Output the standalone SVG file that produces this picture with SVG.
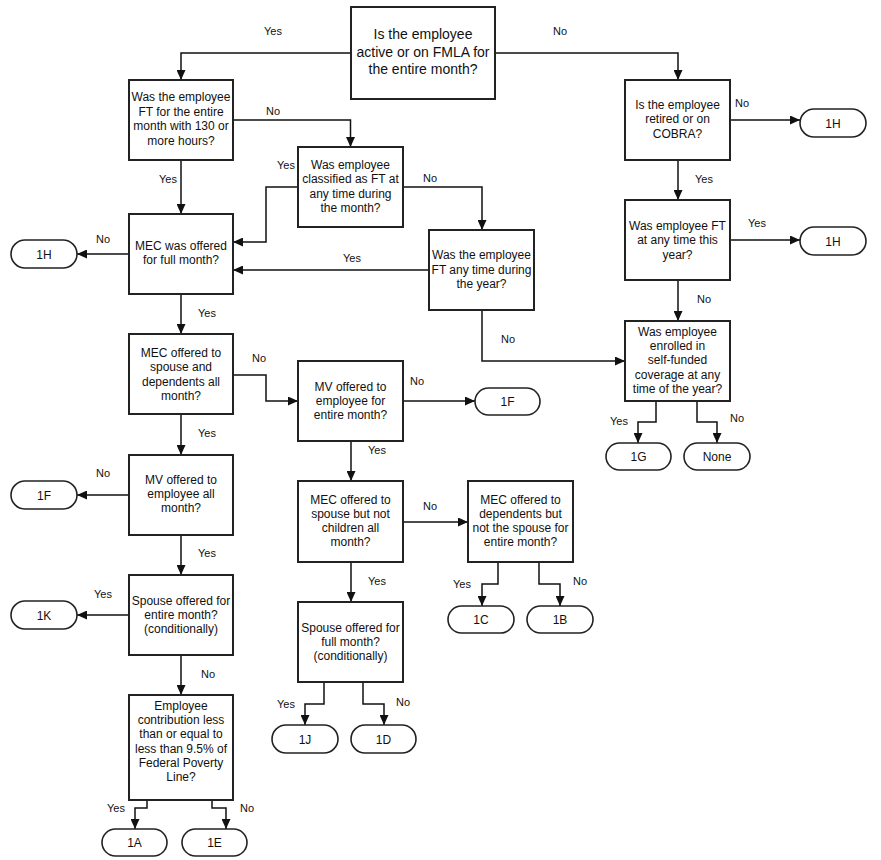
<svg xmlns="http://www.w3.org/2000/svg" width="881" height="860" viewBox="0 0 881 860">
<style>
.box{fill:#fff;stroke:#222;stroke-width:2}
.term{fill:#fff;stroke:#222;stroke-width:1.6}
.t{font-family:"Liberation Sans",Arial,sans-serif;font-size:12px;fill:#111;text-anchor:middle}
.big{font-size:14px}
.lbl{font-family:"Liberation Sans",Arial,sans-serif;font-size:11px;fill:#111;text-anchor:middle}
.c path{fill:none;stroke:#111;stroke-width:1.5;marker-end:url(#ah)}
</style>
<defs>
<marker id="ah" markerUnits="userSpaceOnUse" markerWidth="11" markerHeight="9" refX="10" refY="4.5" orient="auto">
<path d="M0,0 L10,4.5 L0,9 z" fill="#111"/>
</marker>
</defs>
<rect width="881" height="860" fill="#fff"/>
<g class="c" id="connectors">
<path d="M351,53 H181 V80"/>
<path d="M495,53 H678 V80"/>
<path d="M233,120 H350.5 V147"/>
<path d="M181,160 V214"/>
<path d="M298,187 H266 V242 H233"/>
<path d="M403,187 H482 V230"/>
<path d="M429,270 H233"/>
<path d="M482,310 V361 H625"/>
<path d="M129,254 H77"/>
<path d="M730,120 H800"/>
<path d="M678,160 V200"/>
<path d="M730,240 H800"/>
<path d="M678,280 V321"/>
<path d="M656,401 V422 H638 V443"/>
<path d="M697,401 V422 H717 V443"/>
<path d="M181,294 V334"/>
<path d="M233,375 H266 V401 H298"/>
<path d="M181,414 V455"/>
<path d="M129,495 H77"/>
<path d="M181,535 V575"/>
<path d="M129,615 H77"/>
<path d="M181,655 V695"/>
<path d="M147,800 V808 H135 V829"/>
<path d="M212,800 V808 H226 V829"/>
<path d="M403,401 H475"/>
<path d="M351,441 V481"/>
<path d="M403,522 H468"/>
<path d="M351,562 V602"/>
<path d="M498,562 V584 H482 V606"/>
<path d="M539,562 V584 H560 V606"/>
<path d="M324,682 V704 H305 V725"/>
<path d="M363,682 V704 H384 V725"/>
</g>
<g id="labels">
<text class="lbl" x="273" y="35">Yes</text>
<text class="lbl" x="560" y="35">No</text>
<text class="lbl" x="273" y="115">No</text>
<text class="lbl" x="286" y="169">Yes</text>
<text class="lbl" x="168" y="183">Yes</text>
<text class="lbl" x="430" y="182">No</text>
<text class="lbl" x="352" y="262">Yes</text>
<text class="lbl" x="103" y="243">No</text>
<text class="lbl" x="742" y="107">No</text>
<text class="lbl" x="704" y="183">Yes</text>
<text class="lbl" x="757" y="227">Yes</text>
<text class="lbl" x="704" y="303">No</text>
<text class="lbl" x="508" y="343">No</text>
<text class="lbl" x="619" y="425">Yes</text>
<text class="lbl" x="737" y="422">No</text>
<text class="lbl" x="207" y="317">Yes</text>
<text class="lbl" x="259" y="362">No</text>
<text class="lbl" x="207" y="437">Yes</text>
<text class="lbl" x="103" y="477">No</text>
<text class="lbl" x="207" y="557">Yes</text>
<text class="lbl" x="417" y="385">No</text>
<text class="lbl" x="377" y="454">Yes</text>
<text class="lbl" x="430" y="510">No</text>
<text class="lbl" x="377" y="585">Yes</text>
<text class="lbl" x="462" y="588">Yes</text>
<text class="lbl" x="580" y="585">No</text>
<text class="lbl" x="103" y="598">Yes</text>
<text class="lbl" x="208" y="678">No</text>
<text class="lbl" x="286" y="708">Yes</text>
<text class="lbl" x="403" y="706">No</text>
<text class="lbl" x="116" y="812">Yes</text>
<text class="lbl" x="247" y="812">No</text>
</g>
<g id="n_top"><rect class="box" x="351" y="7" width="144" height="92"/>
<text class="t big" x="423" y="39">Is the employee</text><text class="t big" x="423" y="57">active or on FMLA for</text><text class="t big" x="423" y="74">the entire month?</text></g>
<g id="n_ft130"><rect class="box" x="129" y="80" width="104" height="80"/>
<text class="t" x="181" y="101">Was the employee</text><text class="t" x="181" y="115.5">FT for the entire</text><text class="t" x="181" y="130">month with 130 or</text><text class="t" x="181" y="144.5">more hours?</text></g>
<g id="n_retired"><rect class="box" x="625" y="80" width="105" height="80"/>
<text class="t" x="677.5" y="108.5">Is the employee</text><text class="t" x="677.5" y="122.5">retired or on</text><text class="t" x="677.5" y="137.5">COBRA?</text></g>
<g id="n_classified"><rect class="box" x="298" y="147" width="105" height="80"/>
<text class="t" x="350.5" y="168.5">Was employee</text><text class="t" x="350.5" y="182.5">classified as FT at</text><text class="t" x="350.5" y="197.5">any time during</text><text class="t" x="350.5" y="211.5">the month?</text></g>
<g id="n_ftyear"><rect class="box" x="429" y="230" width="105" height="80"/>
<text class="t" x="481.5" y="258.5">Was the employee</text><text class="t" x="481.5" y="273.5">FT any time during</text><text class="t" x="481.5" y="288">the year?</text></g>
<g id="n_mecfull"><rect class="box" x="129" y="214" width="104" height="80"/>
<text class="t" x="181" y="249.5">MEC was offered</text><text class="t" x="181" y="263.5">for full month?</text></g>
<g id="n_ftthisyear"><rect class="box" x="625" y="200" width="105" height="80"/>
<text class="t" x="677.5" y="229.5">Was employee FT</text><text class="t" x="677.5" y="243.5">at any time this</text><text class="t" x="677.5" y="258.5">year?</text></g>
<g id="n_enrolled"><rect class="box" x="625" y="321" width="105" height="80"/>
<text class="t" x="677.5" y="335.5">Was employee</text><text class="t" x="677.5" y="349.5">enrolled in</text><text class="t" x="677.5" y="364">self-funded</text><text class="t" x="677.5" y="378.5">coverage at any</text><text class="t" x="677.5" y="392.5">time of the year?</text></g>
<g id="n_mecspdep"><rect class="box" x="129" y="334" width="104" height="80"/>
<text class="t" x="181" y="356.5">MEC offered to</text><text class="t" x="181" y="370.5">spouse and</text><text class="t" x="181" y="385.5">dependents all</text><text class="t" x="181" y="399.5">month?</text></g>
<g id="n_mventire"><rect class="box" x="298" y="361" width="105" height="80"/>
<text class="t" x="350.5" y="390.5">MV offered to</text><text class="t" x="350.5" y="404.5">employee for</text><text class="t" x="350.5" y="418.5">entire month?</text></g>
<g id="n_mecspouse"><rect class="box" x="298" y="481" width="105" height="81"/>
<text class="t" x="350.5" y="503.5">MEC offered to</text><text class="t" x="350.5" y="517.5">spouse but not</text><text class="t" x="350.5" y="532">children all</text><text class="t" x="350.5" y="546">month?</text></g>
<g id="n_mecdep"><rect class="box" x="468" y="481" width="105" height="81"/>
<text class="t" x="520.5" y="503.5">MEC offered to</text><text class="t" x="520.5" y="517.5">dependents but</text><text class="t" x="520.5" y="532">not the spouse for</text><text class="t" x="520.5" y="546">entire month?</text></g>
<g id="n_spousefull"><rect class="box" x="298" y="602" width="105" height="80"/>
<text class="t" x="350.5" y="631.5">Spouse offered for</text><text class="t" x="350.5" y="645.5">full month?</text><text class="t" x="350.5" y="660">(conditionally)</text></g>
<g id="n_mvall"><rect class="box" x="129" y="455" width="104" height="80"/>
<text class="t" x="181" y="483.5">MV offered to</text><text class="t" x="181" y="497.5">employee all</text><text class="t" x="181" y="512">month?</text></g>
<g id="n_spouseentire"><rect class="box" x="129" y="575" width="104" height="80"/>
<text class="t" x="181" y="604.5">Spouse offered for</text><text class="t" x="181" y="618.5">entire month?</text><text class="t" x="181" y="632.5">(conditionally)</text></g>
<g id="n_contrib"><rect class="box" x="129" y="695" width="104" height="105"/>
<text class="t" x="181" y="709.5">Employee</text><text class="t" x="181" y="723.5">contribution less</text><text class="t" x="181" y="738">than or equal to</text><text class="t" x="181" y="752.5">less than 9.5% of</text><text class="t" x="181" y="766.5">Federal Poverty</text><text class="t" x="181" y="780.5">Line?</text></g>
<g id="t_1H_a"><rect class="term" x="11" y="240" width="66" height="28" rx="14"/><text class="t" x="44" y="258.5">1H</text></g>
<g id="t_1F_a"><rect class="term" x="11" y="481" width="66" height="28" rx="14"/><text class="t" x="44" y="499.5">1F</text></g>
<g id="t_1K"><rect class="term" x="11" y="601" width="66" height="28" rx="14"/><text class="t" x="44" y="619.5">1K</text></g>
<g id="t_1A"><rect class="term" x="102" y="829" width="65" height="27" rx="13.5"/><text class="t" x="134.5" y="847">1A</text></g>
<g id="t_1E"><rect class="term" x="182" y="829" width="65" height="27" rx="13.5"/><text class="t" x="214.5" y="847">1E</text></g>
<g id="t_1J"><rect class="term" x="272" y="725" width="66" height="28" rx="14"/><text class="t" x="305" y="743.5">1J</text></g>
<g id="t_1D"><rect class="term" x="351" y="725" width="65" height="28" rx="14"/><text class="t" x="383.5" y="743.5">1D</text></g>
<g id="t_1C"><rect class="term" x="448" y="606" width="66" height="27" rx="13.5"/><text class="t" x="481" y="624">1C</text></g>
<g id="t_1B"><rect class="term" x="527" y="606" width="66" height="27" rx="13.5"/><text class="t" x="560" y="624">1B</text></g>
<g id="t_1F_b"><rect class="term" x="475" y="388" width="65" height="27" rx="13.5"/><text class="t" x="507.5" y="406">1F</text></g>
<g id="t_1G"><rect class="term" x="606" y="443" width="65" height="27" rx="13.5"/><text class="t" x="638.5" y="461">1G</text></g>
<g id="t_None"><rect class="term" x="684" y="443" width="66" height="27" rx="13.5"/><text class="t" x="717" y="461">None</text></g>
<g id="t_1H_b"><rect class="term" x="800" y="109" width="66" height="28" rx="14"/><text class="t" x="833" y="127.5">1H</text></g>
<g id="t_1H_c"><rect class="term" x="800" y="227" width="66" height="28" rx="14"/><text class="t" x="833" y="245.5">1H</text></g>
</svg>
